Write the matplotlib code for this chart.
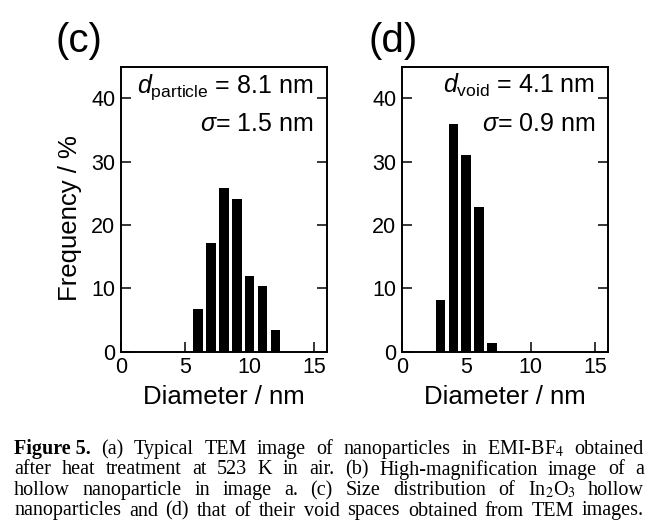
import matplotlib
matplotlib.use("Agg")
import matplotlib.pyplot as plt

plt.rcParams["font.family"] = ["Liberation Sans", "DejaVu Sans"]
plt.rcParams["mathtext.fontset"] = "custom"
plt.rcParams["mathtext.rm"] = "Liberation Sans"
plt.rcParams["mathtext.it"] = "Liberation Sans:italic"

# size distributions (bin centre in nm, frequency in %)
particle_diam = [6, 7, 8, 9, 10, 11, 12]
particle_freq = [6.8, 17.2, 25.8, 24.1, 12.0, 10.3, 3.4]
void_diam = [3, 4, 5, 6, 7]
void_freq = [8.1, 36.0, 31.1, 22.9, 1.3]

panel_tags = ["(c)", "(d)"]
mean_names = ["particle", "void"]
mean_values = [8.1, 4.1]
sigma_values = [1.5, 0.9]

x_ticks = [0, 5, 10, 15]
y_ticks = [0, 10, 20, 30, 40]

caption_lines = [
    [("Figure 5.", "bold"), "(a)", "Typical", "TEM", "image", "of", "nanoparticles",
     "in", "EMI-BF$_4$", "obtained"],
    ["after", "heat", "treatment", "at", "523", "K", "in", "air.", "(b)",
     "High-magnification", "image", "of", "a"],
    ["hollow", "nanoparticle", "in", "image", "a.", "(c)", "Size", "distribution",
     "of", "In$_2$O$_3$", "hollow"],
    ["nanoparticles", "and", "(d)", "that", "of", "their", "void", "spaces",
     "obtained", "from", "TEM", "images."],
]

W, H = 646, 526
fig = plt.figure(figsize=(W / 100, H / 100), dpi=100)


def add_axes_px(left, top, right, bottom):
    return fig.add_axes([left / W, 1 - bottom / H, (right - left) / W, (bottom - top) / H])


def hist_panel(ax, diam, freq, name, mean, sigma):
    ax.bar(diam, freq, width=0.75, color="black", linewidth=0, zorder=3)
    ax.set_xlim(0, 16)
    ax.set_ylim(0, 45)
    ax.set_xticks(x_ticks)
    ax.set_yticks(y_ticks)
    ax.tick_params(direction="in", length=7, width=1.1, labelsize=15.5, pad=4)
    ax.tick_params(axis="y", right=True)
    for sp in ax.spines.values():
        sp.set_linewidth(1.4)
        sp.set_zorder(4)
    ax.set_xlabel("Diameter / nm", fontsize=18.5, labelpad=5)
    ax.text(0.935, 0.908, r"$d_{\mathrm{%s}}$ = %.1f nm" % (name, mean),
            transform=ax.transAxes, ha="right", va="baseline", fontsize=18)
    ax.text(0.935, 0.773, r"$\sigma$= %.1f nm" % sigma,
            transform=ax.transAxes, ha="right", va="baseline", fontsize=18)


ax_c = add_axes_px(120.7, 66.7, 327, 351.7)
ax_d = add_axes_px(401.7, 66.7, 608.3, 351.7)
hist_panel(ax_c, particle_diam, particle_freq, mean_names[0], mean_values[0], sigma_values[0])
hist_panel(ax_d, void_diam, void_freq, mean_names[1], mean_values[1], sigma_values[1])
ax_c.set_ylabel("Frequency / %", fontsize=18.5)
ax_c.yaxis.set_label_coords(-0.19, 0.47)

fig.text(79 / W, 1 - 41 / H, panel_tags[0], ha="center", va="center", fontsize=29)
fig.text(393 / W, 1 - 41 / H, panel_tags[1], ha="center", va="center", fontsize=29)

# justified caption, one text per word
renderer = fig.canvas.get_renderer()
x_left, x_right = 14, 644
baselines = [454, 474.5, 495, 515.5]
for words, base in zip(caption_lines, baselines):
    arts = []
    for w in words:
        weight = "normal"
        if isinstance(w, tuple):
            w, weight = w
        t = fig.text(0, 1 - base / H, w, fontsize=14.5, family="Liberation Serif",
                     weight=weight, va="baseline", ha="left", math_fontfamily="stix")
        arts.append(t)
    widths = [t.get_window_extent(renderer).width for t in arts]
    gap = (x_right - x_left - sum(widths)) / (len(arts) - 1)
    x = x_left
    for t, wd in zip(arts, widths):
        t.set_x(x / W)
        x += wd + gap

fig.savefig("out.png", dpi=100, facecolor="white")
